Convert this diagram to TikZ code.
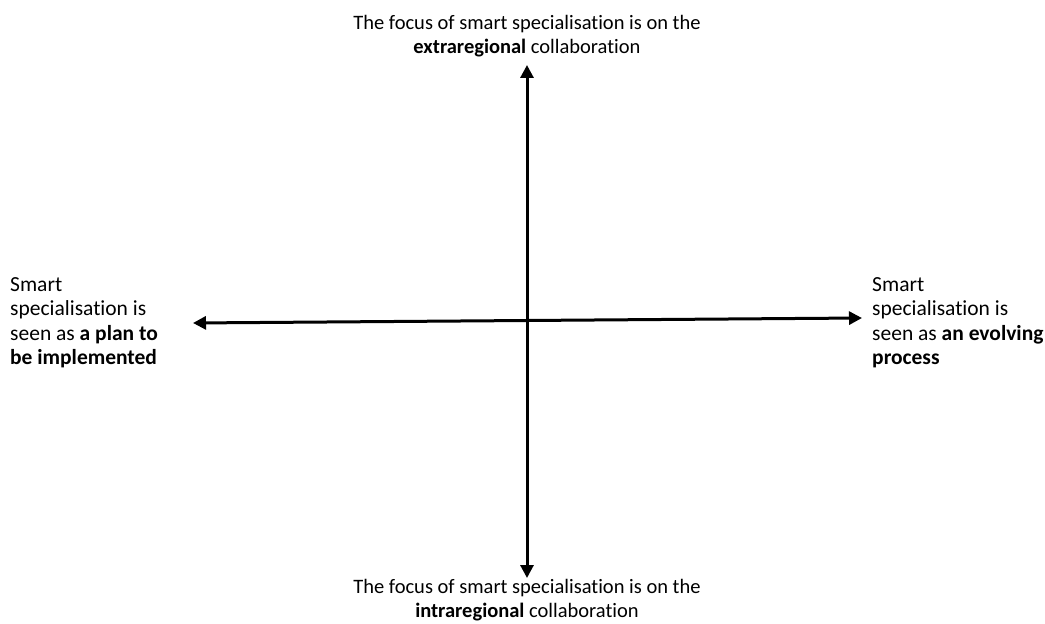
\documentclass[tikz,border=0pt]{standalone}
\usepackage{fontspec}
\setmainfont[Ligatures=NoCommon]{Carlito}
\usetikzlibrary{arrows.meta}
\begin{document}
\begin{tikzpicture}[x=1bp,y=-1bp,
  axis/.style={line width=3bp,{Triangle[length=13bp,width=13bp]}-{Triangle[length=13bp,width=13bp]}},
  lbl/.style={inner sep=0pt,font=\fontsize{20.5bp}{24.5bp}\selectfont},
  side/.style={lbl,align=left,anchor=north west,font=\fontsize{21.5bp}{24.5bp}\selectfont}]
\useasboundingbox (0,0) rectangle (1045,624);
\coordinate (L) at (193,323);
\coordinate (R) at (862,318);
\coordinate (T) at (527,65);
\coordinate (B) at (527,578);
\draw[axis] (L) -- (R);
\draw[axis] (T) -- (B);
\node[lbl,align=center,anchor=north] (top) at (527,15) {The focus of smart specialisation is on the\\\textbf{extraregional} collaboration};
\node[lbl,align=center,anchor=north] (bot) at (527,579) {The focus of smart specialisation is on the\\\textbf{intraregional} collaboration};
\node[side] (left) at (10,277) {Smart\\specialisation is\\seen as \textbf{a plan to}\\\textbf{be implemented}};
\node[side] (right) at (872,277) {Smart\\specialisation is\\seen as \textbf{an evolving}\\\textbf{process}};
\end{tikzpicture}
\end{document}
